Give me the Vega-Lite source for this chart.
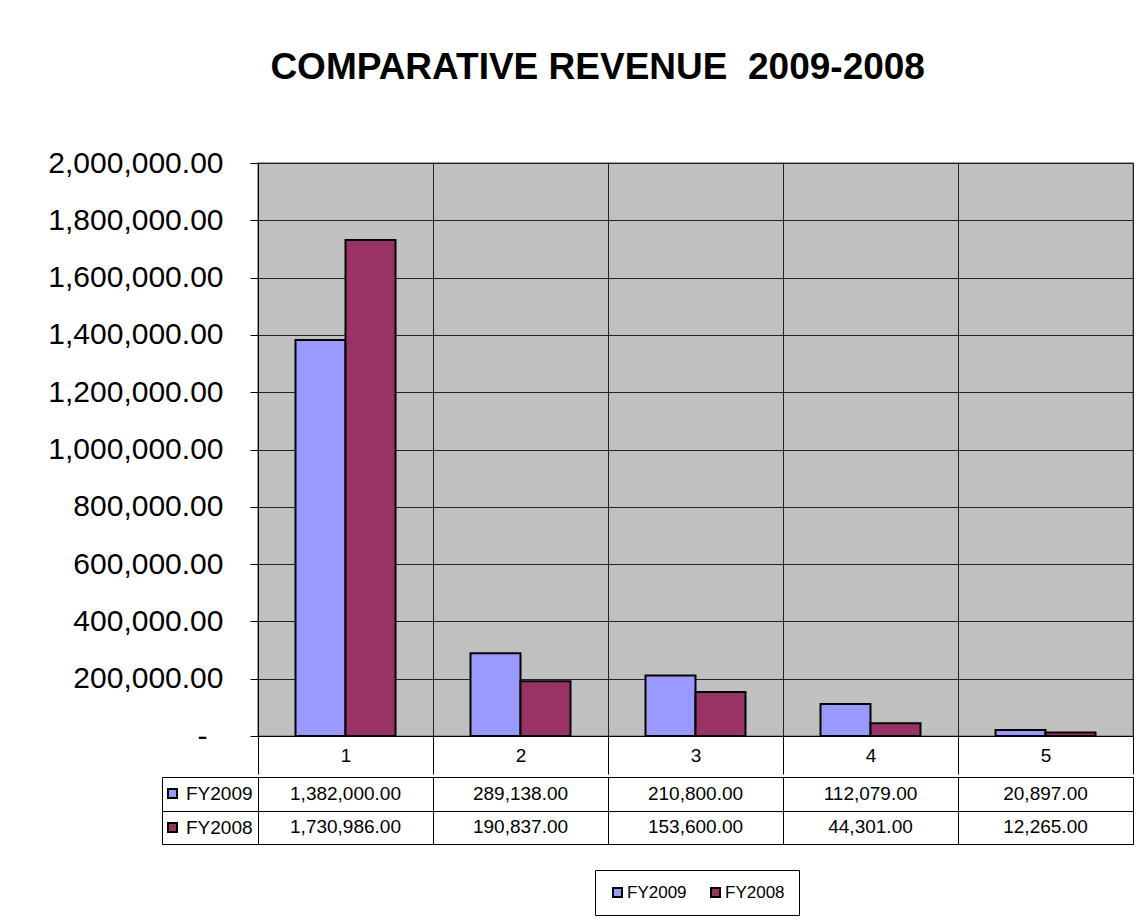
{
  "$schema": "https://vega.github.io/schema/vega-lite/v6.json",
  "background": "white",
  "padding": {"left": 47, "top": 49, "right": 5, "bottom": 5},
  "title": {
    "text": "COMPARATIVE REVENUE\u00a0 2009-2008",
    "font": "Liberation Sans",
    "fontSize": 37,
    "fontWeight": "bold",
    "color": "black",
    "anchor": "middle",
    "offset": 60,
    "dx": 7
  },
  "datasets": {
    "rev": [
      {"cat": "1", "series": "FY2009", "value": 1382000},
      {"cat": "1", "series": "FY2008", "value": 1730986},
      {"cat": "2", "series": "FY2009", "value": 289138},
      {"cat": "2", "series": "FY2008", "value": 190837},
      {"cat": "3", "series": "FY2009", "value": 210800},
      {"cat": "3", "series": "FY2008", "value": 153600},
      {"cat": "4", "series": "FY2009", "value": 112079},
      {"cat": "4", "series": "FY2008", "value": 44301},
      {"cat": "5", "series": "FY2009", "value": 20897},
      {"cat": "5", "series": "FY2008", "value": 12265}
    ]
  },
  "spacing": 0,
  "resolve": {
    "scale": {"color": "independent", "fill": "independent"},
    "legend": {"color": "independent", "fill": "independent"}
  },
  "vconcat": [
    {
      "width": 875,
      "height": 573,
      "view": {"fill": "#C0C0C0", "stroke": "#808080", "strokeWidth": 1.5},
      "data": {"name": "rev"},
      "mark": {"type": "bar", "stroke": "black", "strokeWidth": 2},
      "encoding": {
        "x": {
          "field": "cat", "type": "nominal",
          "scale": {"paddingInner": 0, "paddingOuter": 0},
          "axis": {
            "title": null, "labelAngle": 0, "tickBand": "extent", "tickSize": 38,
            "tickColor": "black", "domainColor": "black", "labelPadding": -19,
            "labelBaseline": "middle", "labelFontSize": 19, "labelFont": "Liberation Sans",
            "labelColor": "black", "grid": true, "gridColor": "#222222", "gridOpacity": 1
          }
        },
        "xOffset": {
          "field": "series", "type": "nominal", "sort": ["FY2009", "FY2008"],
          "scale": {"paddingOuter": 0.75, "paddingInner": 0}
        },
        "y": {
          "field": "value", "type": "quantitative",
          "scale": {"domain": [0, 2000000]},
          "axis": {
            "title": null,
            "values": [0, 200000, 400000, 600000, 800000, 1000000, 1200000, 1400000, 1600000, 1800000, 2000000],
            "labelExpr": "datum.value === 0 ? '-' : format(datum.value, ',.2f')",
            "tickSize": 8, "tickColor": "black",
            "labelPadding": {"condition": {"test": "datum.value === 0", "value": 43}, "value": 27},
            "labelFontSize": 30, "labelFont": "Liberation Sans", "labelColor": "black",
            "domainColor": "black", "gridColor": "#222222", "gridOpacity": 1
          }
        },
        "color": {
          "field": "series", "type": "nominal", "sort": ["FY2009", "FY2008"],
          "scale": {"range": ["#9999FF", "#993366"]},
          "legend": null
        }
      }
    },
    {
      "width": 875,
      "height": 67,
      "view": {"fill": "white", "stroke": "black", "strokeWidth": 1},
      "data": {"name": "rev"},
      "encoding": {
        "x": {
          "field": "cat", "type": "nominal",
          "scale": {"paddingInner": 0, "paddingOuter": 0},
          "axis": {
            "title": null, "labels": false, "ticks": false, "domain": false,
            "grid": true, "tickBand": "extent", "gridColor": "black", "gridOpacity": 1
          }
        },
        "y": {
          "field": "series", "type": "nominal", "sort": ["FY2009", "FY2008"],
          "scale": {"paddingInner": 0, "paddingOuter": 0},
          "axis": {
            "title": null, "labels": false, "tickBand": "extent", "tickSize": -96,
            "offset": 96, "tickColor": "black", "domain": true, "domainColor": "black",
            "grid": true, "gridColor": "black", "gridOpacity": 1
          }
        }
      },
      "layer": [
        {
          "mark": {"type": "text", "font": "Liberation Sans", "fontSize": 19, "color": "black"},
          "encoding": {"text": {"field": "value", "type": "quantitative", "format": ",.2f"}}
        },
        {
          "mark": {"type": "square", "opacity": 0, "stroke": "black", "strokeWidth": 2, "size": 81},
          "encoding": {
            "color": {
              "field": "series", "type": "nominal", "sort": ["FY2009", "FY2008"],
              "scale": {"range": ["#9999FF", "#993366"]},
              "legend": {
                "title": null, "orient": "none", "legendX": 337, "legendY": 93,
                "direction": "horizontal", "strokeColor": "black", "fillColor": "white",
                "padding": 14, "symbolType": "square", "symbolSize": 81,
                "symbolStrokeColor": "black", "symbolStrokeWidth": 2, "symbolOpacity": 1,
                "labelFont": "Liberation Sans", "labelFontSize": 17, "labelColor": "black",
                "labelOffset": 1, "columnPadding": 20
              }
            }
          }
        },
        {
          "mark": {"type": "square", "opacity": 0, "stroke": "black", "strokeWidth": 2, "size": 81},
          "encoding": {
            "fill": {
              "field": "series", "type": "nominal", "sort": ["FY2009", "FY2008"],
              "scale": {"range": ["#9999FF", "#993366"]},
              "legend": {
                "title": null, "orient": "none", "legendX": -95, "legendY": 7,
                "direction": "vertical", "padding": 0, "symbolType": "square", "symbolSize": 81,
                "symbolStrokeColor": "black", "symbolStrokeWidth": 2, "symbolOpacity": 1,
                "labelFont": "Liberation Sans", "labelFontSize": 19, "labelColor": "black",
                "labelOffset": 4, "rowPadding": 14
              }
            }
          }
        }
      ]
    }
  ]
}
